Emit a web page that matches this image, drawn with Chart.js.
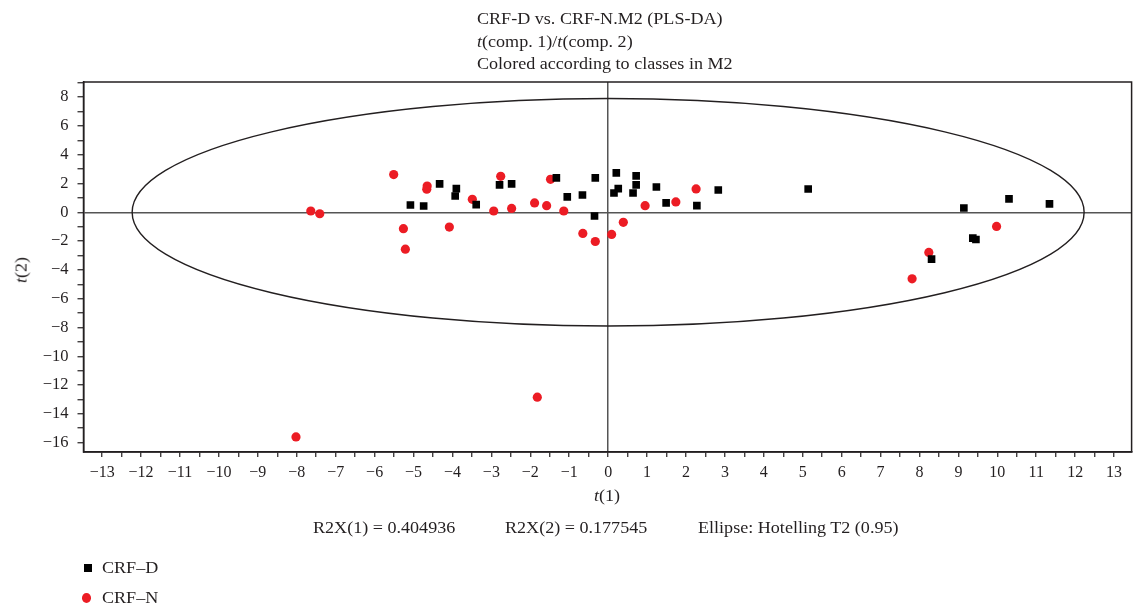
<!DOCTYPE html>
<html><head><meta charset="utf-8">
<script src="https://cdn.jsdelivr.net/npm/chart.js@4.4.1/dist/chart.umd.min.js"></script>
<style>
html,body{margin:0;padding:0;background:#fff;}
#wrap{position:relative;width:1137px;height:614px;font-family:"Liberation Serif","Times New Roman",serif;color:#231f20;overflow:hidden;}
canvas{position:absolute;left:0;top:0;}
.t{position:absolute;white-space:nowrap;font-size:16px;line-height:1;transform-origin:0 50%;transform:scaleX(1.13);}
.lg{position:absolute;left:0;white-space:nowrap;font-size:16px;line-height:16px;}
.lg .txt{position:absolute;left:102px;top:0;transform-origin:0 50%;transform:scaleX(1.13);}
.lg .mk{position:absolute;}
</style></head><body>
<div id="wrap">
<canvas id="c" width="1137" height="614"></canvas>
<div class="t" style="left:477px;top:11px;">CRF-D vs. CRF-N.M2 (PLS-DA)</div>
<div class="t" style="left:477px;top:33.5px;"><i>t</i>(comp. 1)/<i>t</i>(comp. 2)</div>
<div class="t" style="left:477px;top:56px;">Colored according to classes in M2</div>
<div class="t" style="left:594px;top:488px;"><i>t</i>(1)</div>
<div class="t" style="left:10px;top:262px;transform-origin:50% 50%;transform:rotate(-90deg) scaleX(1.13);"><i>t</i>(2)</div>
<div class="t" style="left:313px;top:520px;">R2X(1) = 0.404936</div>
<div class="t" style="left:505px;top:520px;">R2X(2) = 0.177545</div>
<div class="t" style="left:698px;top:520px;">Ellipse: Hotelling T2 (0.95)</div>
<div id="legend"></div>
</div>
<script>
// ---- data ----
const crfD_t1 = [-5.08,-4.74,-4.33,-3.90,-3.93,-3.39,-2.79,-2.48,-1.33,-0.33,-1.05,-0.66,-0.35,0.21,0.72,0.72,0.26,0.15,0.64,1.24,1.49,2.28,2.83,5.14,9.14,10.30,11.34,9.37,9.45,8.31];
const crfD_t2 = [0.51,0.44,1.97,1.64,1.13,0.53,1.90,1.97,2.39,2.39,1.07,1.20,-0.26,2.74,2.53,1.90,1.64,1.34,1.34,1.76,0.65,0.46,1.55,1.62,0.30,0.93,0.58,-1.79,-1.89,-3.25];
const crfN_t1 = [-7.64,-7.41,-5.51,-4.65,-4.66,-3.49,-5.26,-5.21,-4.08,-2.76,-2.94,-2.48,-1.48,-1.89,-1.58,-1.14,-0.65,-0.33,0.09,0.39,0.95,1.74,2.26,9.98,8.24,7.81,-8.02,-1.82];
const crfN_t2 = [0.09,-0.10,2.62,1.82,1.60,0.90,-1.14,-2.56,-1.03,2.50,0.09,0.27,2.29,0.65,0.46,0.09,-1.47,-2.03,-1.54,-0.70,0.46,0.72,1.62,-0.98,-2.79,-4.62,-15.60,-12.84];
const seriesNames = ["CRF\u2013D", "CRF\u2013N"];
const xTickValues = [-13,-12,-11,-10,-9,-8,-7,-6,-5,-4,-3,-2,-1,0,1,2,3,4,5,6,7,8,9,10,11,12,13];
const yTickValues = [-16,-14,-12,-10,-8,-6,-4,-2,0,2,4,6,8];
const ellipseSemiAxes = [12.23, 7.9]; // Hotelling T2 (0.95), centred on 0,0

const INK = '#231f20';
const fmt = v => v < 0 ? '\u2212' + (-v) : String(v);

const framePlugin = {
  id: 'frame',
  beforeDatasetsDraw(chart) {
    const {ctx, scales:{x, y}} = chart;
    const cx = x.getPixelForValue(0), cy = y.getPixelForValue(0);
    const rx = x.getPixelForValue(ellipseSemiAxes[0]) - cx;
    const ry = cy - y.getPixelForValue(ellipseSemiAxes[1]);
    ctx.save();
    ctx.beginPath();
    ctx.ellipse(cx, cy, rx, ry, 0, 0, Math.PI * 2);
    ctx.strokeStyle = INK; ctx.lineWidth = 1.4;
    ctx.stroke();
    ctx.restore();
  },
  afterDraw(chart) {
    const {ctx, chartArea:a} = chart;
    ctx.save();
    ctx.strokeStyle = INK; ctx.lineWidth = 1.5;
    ctx.strokeRect(a.left, a.top, a.right - a.left, a.bottom - a.top);
    ctx.restore();
  }
};

const chart = new Chart(document.getElementById('c'), {
  type: 'scatter',
  data: {
    datasets: [
      { label: seriesNames[0], data: crfD_t1.map((v,i)=>({x:v, y:crfD_t2[i]})),
        pointStyle: 'rect', pointRadius: 5.4, backgroundColor: '#000', borderColor: '#000', borderWidth: 0 },
      { label: seriesNames[1], data: crfN_t1.map((v,i)=>({x:v, y:crfN_t2[i]})),
        pointStyle: 'circle', pointRadius: 4.6, backgroundColor: '#ec1c24', borderColor: '#ec1c24', borderWidth: 0 }
    ]
  },
  options: {
    responsive: false, animation: false,
    layout: { padding: { top: 82, right: 4, left: 0, bottom: 0 } },
    plugins: { legend: { display: false }, tooltip: { enabled: false }, title: { display: false } },
    scales: {
      x: {
        type: 'linear', min: -13.48, max: 13.45,
        afterFit: s => { s.height = 162; },
        afterBuildTicks: s => {
          const t = [];
          xTickValues.forEach(v => { t.push({value: v}); if (v + 0.5 < s.max) t.push({value: v + 0.5}); if (v === xTickValues[0] && v - 0.5 > s.min) t.unshift({value: v - 0.5}); });
          s.ticks = t;
        },
        ticks: { autoSkip: false, maxRotation: 0, padding: 6, color: INK,
          font: { family: '"Liberation Serif", serif', size: 16 },
          callback: v => xTickValues.includes(v) ? fmt(v) : '' },
        grid: { drawOnChartArea: true, color: c => (c.tick && c.tick.value === 0) ? '#555' : 'rgba(0,0,0,0)',
          lineWidth: 1.5, tickColor: INK, tickLength: 5, tickWidth: 1.2 },
        border: { display: true, color: INK, width: 1.5 }
      },
      y: {
        type: 'linear', min: -16.65, max: 9.05,
        afterFit: s => { s.width = 83.5; },
        afterBuildTicks: s => {
          const t = [];
          yTickValues.forEach(v => { t.push({value: v}); if (v + 1 <= s.max) t.push({value: v + 1}); });
          s.ticks = t;
        },
        ticks: { autoSkip: false, padding: 9, color: INK,
          font: { family: '"Liberation Serif", serif', size: 16.5 },
          callback: v => yTickValues.includes(v) ? fmt(v) : '' },
        grid: { drawOnChartArea: true, color: c => (c.tick && c.tick.value === 0) ? '#555' : 'rgba(0,0,0,0)',
          lineWidth: 1.5, tickColor: INK, tickLength: 6, tickWidth: 1.2 },
        border: { display: true, color: INK, width: 1.5 }
      }
    }
  },
  plugins: [framePlugin]
});

// HTML legend built from the chart's datasets
const lg = document.getElementById('legend');
const legendY = [560, 590];
chart.data.datasets.forEach((ds, i) => {
  const row = document.createElement('div');
  row.className = 'lg';
  row.style.top = legendY[i] + 'px';
  const mk = document.createElement('div');
  mk.className = 'mk';
  if (ds.pointStyle === 'rect') {
    mk.style.cssText = 'left:84px;top:4px;width:8px;height:8px;background:' + ds.backgroundColor;
  } else {
    mk.style.cssText = 'left:82px;top:3px;width:9px;height:9.5px;border-radius:50%;background:' + ds.backgroundColor;
  }
  const tx = document.createElement('span');
  tx.className = 'txt';
  tx.textContent = ds.label;
  row.appendChild(mk); row.appendChild(tx);
  lg.appendChild(row);
});
</script>
</body></html>
